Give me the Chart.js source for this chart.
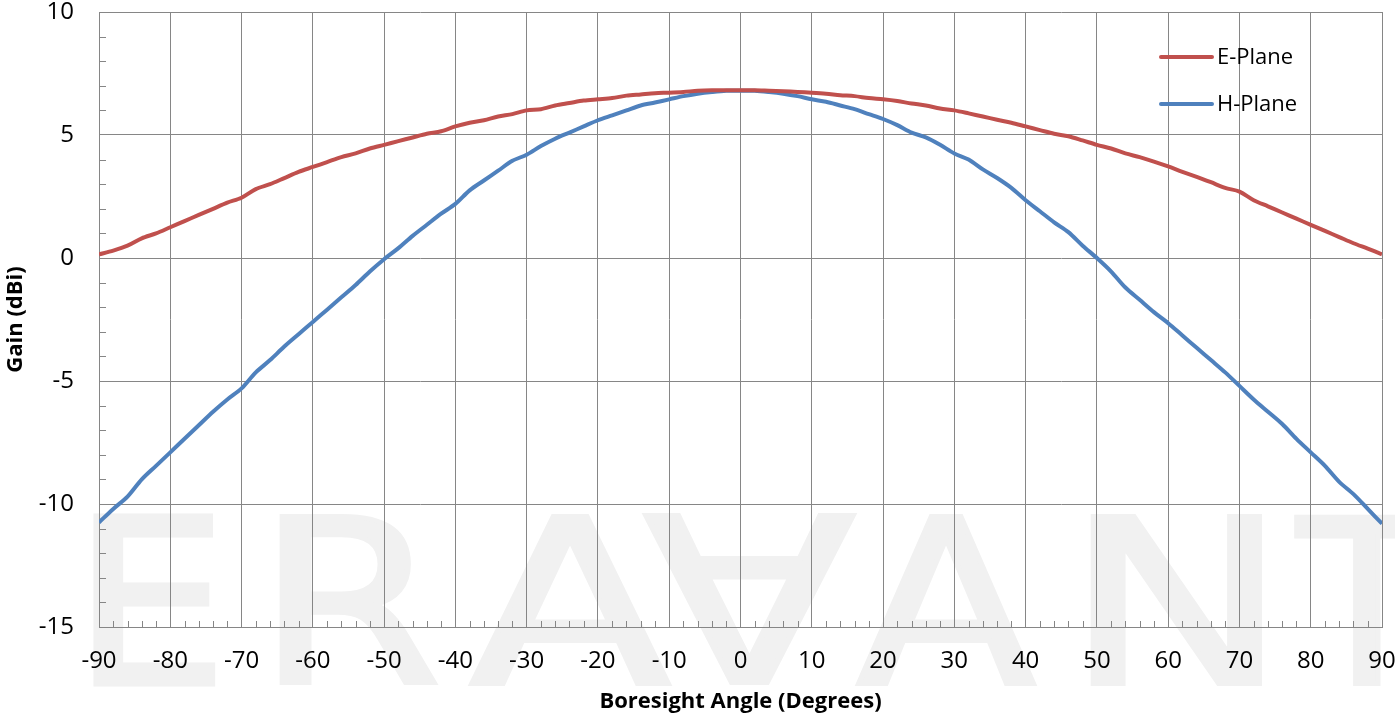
<!DOCTYPE html>
<html>
<head>
<meta charset="utf-8">
<script src="https://cdn.jsdelivr.net/npm/chart.js@4.4.1/dist/chart.umd.min.js"></script>
<style>
  html, body { margin: 0; padding: 0; background: #fff; }
  canvas { display: block; }
</style>
</head>
<body>
<canvas id="gainChart" width="1395" height="717"></canvas>
<script>
// boresight angle, degrees
const angles = [
  -90, -88, -86, -84, -82, -80, -78, -76, -74, -72,
  -70, -68, -66, -64, -62, -60, -58, -56, -54, -52,
  -50, -48, -46, -44, -42, -40, -38, -36, -34, -32,
  -30, -28, -26, -24, -22, -20, -18, -16, -14, -12,
  -10, -8, -6, -4, -2, 0, 2, 4, 6, 8,
  10, 12, 14, 16, 18, 20, 22, 24, 26, 28,
  30, 32, 34, 36, 38, 40, 42, 44, 46, 48,
  50, 52, 54, 56, 58, 60, 62, 64, 66, 68,
  70, 72, 74, 76, 78, 80, 82, 84, 86, 88,
  90
];

// gain (dBi)
const ePlane = [
  0.15, 0.30, 0.50, 0.80, 1.00, 1.25, 1.50, 1.75, 2.00, 2.25,
  2.45, 2.80, 3.00, 3.25, 3.50, 3.70, 3.90, 4.10, 4.25, 4.45,
  4.60, 4.75, 4.90, 5.05, 5.15, 5.35, 5.50, 5.60, 5.75, 5.85,
  6.00, 6.05, 6.20, 6.30, 6.40, 6.45, 6.50, 6.60, 6.65, 6.70,
  6.72, 6.75, 6.80, 6.82, 6.82, 6.82, 6.82, 6.80, 6.78, 6.75,
  6.72, 6.68, 6.62, 6.58, 6.50, 6.45, 6.38, 6.28, 6.20, 6.08,
  6.00, 5.88, 5.75, 5.62, 5.50, 5.35, 5.20, 5.05, 4.95, 4.78,
  4.60, 4.45, 4.25, 4.10, 3.92, 3.72, 3.50, 3.30, 3.08, 2.85,
  2.70, 2.35, 2.10, 1.85, 1.60, 1.35, 1.10, 0.85, 0.60, 0.38,
  0.15
];

const hPlane = [
  -10.75, -10.20, -9.70, -9.00, -8.45, -7.90, -7.35, -6.80, -6.25, -5.75,
  -5.30, -4.65, -4.15, -3.60, -3.10, -2.60, -2.10, -1.60, -1.10, -0.55,
  -0.05, 0.40, 0.90, 1.35, 1.80, 2.20, 2.75, 3.15, 3.55, 3.95,
  4.20, 4.55, 4.85, 5.10, 5.35, 5.60, 5.80, 6.00, 6.20, 6.32,
  6.45, 6.58, 6.68, 6.75, 6.80, 6.80, 6.80, 6.75, 6.68, 6.58,
  6.45, 6.35, 6.20, 6.05, 5.85, 5.65, 5.40, 5.10, 4.90, 4.60,
  4.25, 4.00, 3.60, 3.25, 2.85, 2.35, 1.90, 1.45, 1.05, 0.50,
  0.00, -0.55, -1.20, -1.70, -2.20, -2.65, -3.15, -3.65, -4.15, -4.65,
  -5.20, -5.75, -6.25, -6.75, -7.35, -7.90, -8.45, -9.10, -9.60, -10.20,
  -10.80
];

const seriesNames = ['E-Plane', 'H-Plane'];
const seriesColors = ['#C0504D', '#4F81BD'];

const gridColor = '#868686';

function toPoints(ys) {
  return angles.map((a, i) => ({ x: a, y: ys[i] }));
}

// chart.js adds tick padding to the scale edges, drop that so the plot box stays put
function noEdgePadding(scale) {
  scale.paddingTop = 0;
  scale.paddingBottom = 0;
  scale.paddingLeft = 0;
  scale.paddingRight = 0;
}

// faint ERAVANT logo behind the plot
const watermark = {
  id: 'watermark',
  beforeDraw(chart) {
    const ctx = chart.ctx;
    const top = 513, bot = 686;
    const lw = 5;
    const letters = [
      { ch: 'E', l: 93, r: 216 },
      { ch: 'R', l: 279, r: 437 },
      { ch: 'A', l: 468, r: 672 },
      { ch: 'A', l: 642, r: 857, flip: true },
      { ch: 'A', l: 855, r: 1037 },
      { ch: 'N', l: 1090, r: 1262 },
      { ch: 'T', l: 1294, r: 1440 }
    ];
    ctx.save();
    ctx.fillStyle = '#f1f1f1';
    ctx.strokeStyle = '#f1f1f1';
    ctx.lineWidth = lw;
    ctx.lineJoin = 'miter';
    ctx.font = '240px "DejaVu Sans"';
    ctx.textAlign = 'left';
    ctx.textBaseline = 'alphabetic';
    letters.forEach(lt => {
      const m = ctx.measureText(lt.ch);
      const w = m.actualBoundingBoxLeft + m.actualBoundingBoxRight;
      const h = m.actualBoundingBoxAscent + m.actualBoundingBoxDescent;
      const tx = (m.actualBoundingBoxLeft - m.actualBoundingBoxRight) / 2;
      const ty = (m.actualBoundingBoxAscent - m.actualBoundingBoxDescent) / 2;
      ctx.save();
      ctx.translate((lt.l + lt.r) / 2, (top + bot) / 2);
      if (lt.flip) ctx.rotate(Math.PI);
      ctx.scale((lt.r - lt.l) / (w + lw), (bot - top) / (h + lw));
      ctx.fillText(lt.ch, tx, ty);
      ctx.strokeText(lt.ch, tx, ty);
      ctx.restore();
    });
    ctx.restore();
  }
};

// small inside tick marks between the gridlines
const minorTicks = {
  id: 'minorTicks',
  beforeDatasetsDraw(chart) {
    const { ctx, chartArea, scales } = chart;
    ctx.save();
    ctx.strokeStyle = gridColor;
    ctx.lineWidth = 1;
    ctx.beginPath();
    scales.y.ticks.forEach(t => {
      if (t.value % 5 === 0) return;
      const py = Math.round(scales.y.getPixelForValue(t.value)) + 0.5;
      ctx.moveTo(chartArea.left, py);
      ctx.lineTo(chartArea.left + 7, py);
    });
    scales.x.ticks.forEach(t => {
      if (t.value % 10 === 0) return;
      const px = Math.round(scales.x.getPixelForValue(t.value)) + 0.5;
      ctx.moveTo(px, chartArea.bottom);
      ctx.lineTo(px, chartArea.bottom - 6);
    });
    ctx.stroke();
    ctx.restore();
  }
};

// legend sitting inside the plot, top right
const innerLegend = {
  id: 'innerLegend',
  afterDatasetsDraw(chart) {
    const { ctx, chartArea } = chart;
    ctx.save();
    ctx.font = '22px "Open Sans"';
    ctx.textBaseline = 'middle';
    ctx.textAlign = 'left';
    chart.data.datasets.forEach((ds, i) => {
      const y = chartArea.top + 45 + i * 47;
      ctx.strokeStyle = ds.borderColor;
      ctx.lineWidth = 4;
      ctx.lineCap = 'round';
      ctx.beginPath();
      ctx.moveTo(chartArea.right - 221, y);
      ctx.lineTo(chartArea.right - 170, y);
      ctx.stroke();
      ctx.fillStyle = '#000';
      ctx.fillText(ds.label, chartArea.right - 165, y + 1);
    });
    ctx.restore();
  }
};

const ctx = document.getElementById('gainChart');
new Chart(ctx, {
  type: 'line',
  data: {
    datasets: [{
      label: seriesNames[0],
      data: toPoints(ePlane),
      borderColor: seriesColors[0],
      backgroundColor: seriesColors[0],
      borderWidth: 4,
      pointRadius: 0,
      tension: 0.3
    }, {
      label: seriesNames[1],
      data: toPoints(hPlane),
      borderColor: seriesColors[1],
      backgroundColor: seriesColors[1],
      borderWidth: 4,
      pointRadius: 0,
      tension: 0.3
    }]
  },
  options: {
    responsive: false,
    animation: false,
    layout: {
      autoPadding: false,
      padding: { top: 12, right: 13, left: 0, bottom: 0 }
    },
    plugins: {
      legend: { display: false },
      tooltip: { enabled: false }
    },
    scales: {
      x: {
        type: 'linear',
        min: -90,
        max: 90,
        afterFit(scale) {
          scale.height = 90;
          noEdgePadding(scale);
        },
        ticks: {
          stepSize: 2,
          autoSkip: false,
          maxRotation: 0,
          padding: 20,
          color: '#000',
          font: { family: 'Open Sans', size: 24 },
          callback: v => (v % 10 === 0 ? v : '')
        },
        grid: {
          drawTicks: false,
          color: c => (c.tick && c.tick.value % 10 === 0 ? gridColor : 'rgba(0,0,0,0)'),
          lineWidth: 1
        },
        border: { color: gridColor, width: 1 },
        title: {
          display: true,
          text: 'Boresight Angle (Degrees)',
          color: '#000',
          font: { family: 'Open Sans', size: 22, weight: 'bold' },
          padding: { top: 0, bottom: 2 }
        }
      },
      y: {
        min: -15,
        max: 10,
        afterFit(scale) {
          scale.width = 99;
          noEdgePadding(scale);
        },
        ticks: {
          stepSize: 1,
          autoSkip: false,
          padding: 25,
          color: '#000',
          font: { family: 'Open Sans', size: 24 },
          callback: v => (v % 5 === 0 ? v : '')
        },
        grid: {
          drawTicks: false,
          color: c => (c.tick && c.tick.value % 5 === 0 ? gridColor : 'rgba(0,0,0,0)'),
          lineWidth: 1
        },
        border: { color: gridColor, width: 1 },
        title: {
          display: true,
          text: 'Gain (dBi)',
          color: '#000',
          font: { family: 'Open Sans', size: 22, weight: 'bold' },
          padding: { top: 3, bottom: 0 }
        }
      }
    }
  },
  plugins: [watermark, minorTicks, innerLegend]
});
</script>
</body>
</html>
